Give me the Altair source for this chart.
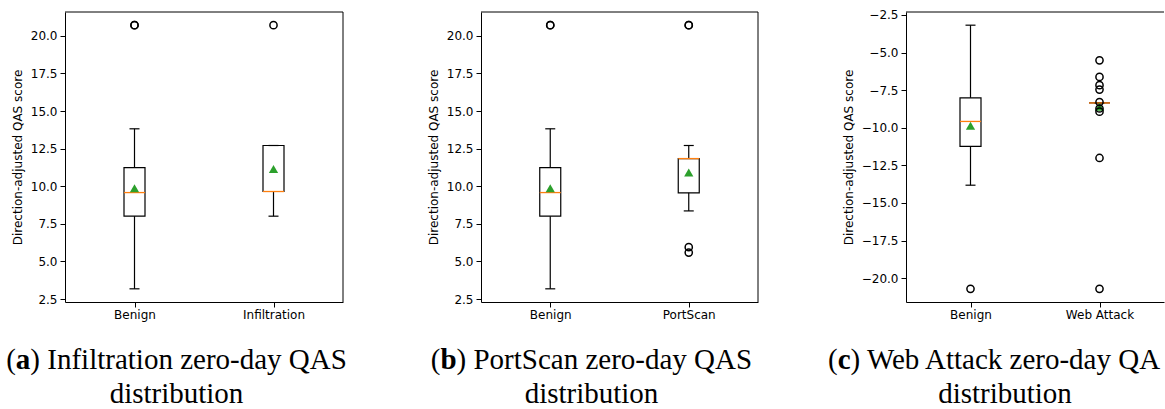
import altair as alt
import pandas as pd

# ---------------- data ----------------
CATEGORIES = [["Benign", "Infiltration"], ["Benign", "PortScan"], ["Benign", "Web Attack"]]
WHISKER_LOW = [[3.18, 8.01], [3.18, 8.36], [-13.82, -8.35]]
Q1 = [[8.01, 9.65], [8.01, 9.56], [-11.24, -8.35]]
MEDIAN = [[9.58, 9.65], [9.58, 11.84], [-9.58, -8.35]]
Q3 = [[11.24, 12.71], [11.24, 11.84], [-8.01, -8.35]]
WHISKER_HIGH = [[13.82, 12.71], [13.82, 12.71], [-3.18, -8.35]]
MEANS = [[9.87, 11.14], [9.87, 10.91], [-9.87, -8.61]]
OUTLIERS = [
    [[20.71, 20.71], [20.71]],
    [[20.71, 20.71], [20.71, 20.71, 5.95, 5.59]],
    [[-20.71], [-5.52, -6.62, -7.17, -7.46, -8.29, -8.72, -8.93, -12.01, -20.71]],
]
Y_TICKS = [
    [2.5, 5.0, 7.5, 10.0, 12.5, 15.0, 17.5, 20.0],
    [2.5, 5.0, 7.5, 10.0, 12.5, 15.0, 17.5, 20.0],
    [-20.0, -17.5, -15.0, -12.5, -10.0, -7.5, -5.0, -2.5],
]
Y_TITLE = "Direction-adjusted QAS score"
CAPTION_LETTERS = ["a", "b", "c"]
# the third caption is cut off at the right edge of the reference picture
CAPTION_TEXTS = [") Infiltration zero-day QAS", ") PortScan zero-day QAS", ") Web Attack zero-day QA"]
CAPTION_LINE2 = "distribution"

# ---------------- layout (pixels) ----------------
PLOT_W = [278, 277, 258]
PLOT_H = 290
LEFT = [65, 91, 126]          # from panel region left edge to plot left edge
RIGHT = [47, 22, 0]
TOP = 12
BOTTOM = 409 - TOP - PLOT_H
REGION_X = [0, 390, 780]
CAP_START = [6.2, 430.8, 828.0]     # absolute x of "(" on line 1
CAP_CENTER2 = [176.5, 591.5, 1005.0]  # absolute x centre of line 2
LETTER_W = [14.5, 16.1, 12.9]
PAREN_W = 9.66
CAP_FONT = "Liberation Serif"
CAP_SIZE = 29
BASE1 = 356.5
BASE2 = 390.5

one = pd.DataFrame({"k": [0]})


def panel(i):
    cats = CATEGORIES[i]
    W = PLOT_W[i]
    origin = REGION_X[i] + LEFT[i]
    box = pd.DataFrame({
        "cat": cats, "lo": WHISKER_LOW[i], "q1": Q1[i], "med": MEDIAN[i],
        "q3": Q3[i], "hi": WHISKER_HIGH[i], "mean": MEANS[i],
    })
    oc, ov = [], []
    for c, vals in zip(cats, OUTLIERS[i]):
        oc += [c] * len(vals)
        ov += vals
    out = pd.DataFrame({"cat": oc, "v": ov})

    allv = WHISKER_LOW[i] + WHISKER_HIGH[i] + ov
    vmin, vmax = min(allv), max(allv)
    m = (vmax - vmin) * 0.05
    ys = alt.Scale(domain=[vmin - m, vmax + m], nice=False, zero=False)
    yaxis = alt.Axis(values=Y_TICKS[i], format=".1f", title=Y_TITLE, titlePadding=6,
                     labelPadding=3)
    xaxis = alt.Axis(labelAngle=0, labelPadding=2)
    X = alt.X("cat:N", sort=cats, scale=alt.Scale(type="point", padding=0.5), axis=xaxis, title=None)

    def Y(f):
        return alt.Y(f, type="quantitative", scale=ys, axis=yaxis, title=Y_TITLE)

    base = alt.Chart(box)
    lower = base.mark_rule(color="black", strokeWidth=1.2).encode(x=X, y=Y("lo"), y2="q1:Q")
    upper = base.mark_rule(color="black", strokeWidth=1.2).encode(x=X, y=Y("q3"), y2="hi:Q")
    cap_lo = base.mark_tick(color="black", size=10, thickness=1.2, opacity=1).encode(x=X, y=Y("lo"))
    cap_hi = base.mark_tick(color="black", size=10, thickness=1.2, opacity=1).encode(x=X, y=Y("hi"))
    boxm = base.mark_bar(size=21, fillOpacity=0, stroke="black", strokeWidth=1.2).encode(
        x=X, y=Y("q1"), y2="q3:Q")
    med = base.mark_tick(color="#ff7f0e", size=21, thickness=1.3, opacity=1).encode(x=X, y=Y("med"))
    mean = base.mark_point(shape="triangle-up", filled=True, color="#2ca02c", size=85,
                           opacity=1).encode(x=X, y=Y("mean"))
    outl = alt.Chart(out).mark_point(shape="circle", filled=False, color="black", size=52,
                                     strokeWidth=1.5, opacity=1).encode(x=X, y=Y("v"))

    frame_top = alt.Chart(one).mark_rule(color="black", strokeWidth=1).encode(
        x=alt.value(0), x2=alt.value(W), y=alt.value(0))
    layers = [frame_top]
    if i < 2:
        layers.append(alt.Chart(one).mark_rule(color="black", strokeWidth=1).encode(
            x=alt.value(W), y=alt.value(0), y2=alt.value(PLOT_H)))

    s = CAP_START[i] - origin
    kw = dict(align="left", baseline="alphabetic", font=CAP_FONT, fontSize=CAP_SIZE, color="black")
    cap_paren = alt.Chart(one).mark_text(**kw).encode(
        x=alt.value(s), y=alt.value(BASE1), text=alt.value("("))
    cap_letter = alt.Chart(one).mark_text(fontWeight="bold", **kw).encode(
        x=alt.value(s + PAREN_W), y=alt.value(BASE1), text=alt.value(CAPTION_LETTERS[i]))
    cap_rest = alt.Chart(one).mark_text(**kw).encode(
        x=alt.value(s + PAREN_W + LETTER_W[i]), y=alt.value(BASE1), text=alt.value(CAPTION_TEXTS[i]))
    cap2 = alt.Chart(one).mark_text(align="center", baseline="alphabetic", font=CAP_FONT,
                                    fontSize=CAP_SIZE, color="black").encode(
        x=alt.value(CAP_CENTER2[i] - origin), y=alt.value(BASE2), text=alt.value(CAPTION_LINE2))

    pin = alt.Chart(one).mark_rule(opacity=0, strokeWidth=0).encode(
        x=alt.value(-LEFT[i]), x2=alt.value(W + RIGHT[i]),
        y=alt.value(-TOP), y2=alt.value(PLOT_H + BOTTOM))

    return alt.layer(
        lower, upper, cap_lo, cap_hi, boxm, med, mean, outl,
        *layers, cap_paren, cap_letter, cap_rest, cap2, pin
    ).properties(width=W, height=PLOT_H)


chart = alt.hconcat(panel(0), panel(1), panel(2), spacing=0).properties(
    padding=0, background="white"
).configure_view(stroke=None).configure_axis(
    labelFont="DejaVu Sans", labelFontSize=12, labelColor="black",
    titleFont="DejaVu Sans", titleFontSize=12, titleFontWeight="normal", titleColor="black",
    tickColor="black", tickSize=5, tickWidth=1, domainColor="black", domainWidth=1, grid=False,
)

chart.save("out.html", embed_options={"renderer": "svg", "actions": False})
